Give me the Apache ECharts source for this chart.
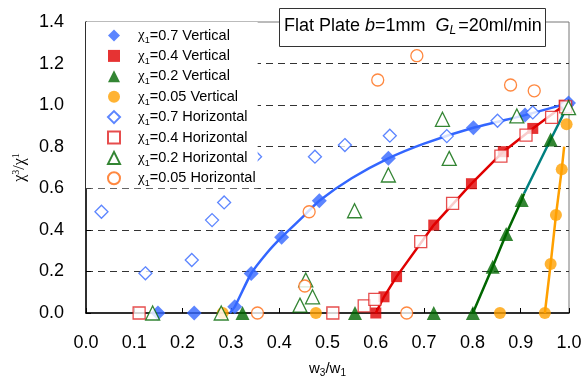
<!DOCTYPE html>
<html><head><meta charset="utf-8">
<script src="https://cdn.jsdelivr.net/npm/echarts@6/dist/echarts.min.js"></script>
<style>html,body{margin:0;padding:0;background:#fff}#c{width:582px;height:378px}</style>
</head><body><div id="c"></div>
<script>
// ---- data ----
const xTicks = [0.0,0.1,0.2,0.3,0.4,0.5,0.6,0.7,0.8,0.9,1.0];
const yTicks = [0.0,0.2,0.4,0.6,0.8,1.0,1.2,1.4];
const legendNames = ['χ1=0.7 Vertical','χ1=0.4 Vertical','χ1=0.2 Vertical','χ1=0.05 Vertical',
  'χ1=0.7 Horizontal','χ1=0.4 Horizontal','χ1=0.2 Horizontal','χ1=0.05 Horizontal'];

const v07 = [[0.149,0],[0.224,0],[0.308,0.03],[0.342,0.19],[0.405,0.365],[0.483,0.54],[0.626,0.744],[0.802,0.891],[0.909,0.952],[0.999,1.01]];
const v04 = [[0.600,0],[0.617,0.078],[0.643,0.175],[0.720,0.423],[0.798,0.622],[0.864,0.776],[0.925,0.888],[0.99,1.0]];
const v02 = [[0.324,0],[0.557,0],[0.720,0],[0.801,0],[0.842,0.223],[0.870,0.380],[0.902,0.544],[0.962,0.835]];
const v005 = [[0.283,0],[0.476,0],[0.857,0],[0.950,0],[0.962,0.236],[0.973,0.471],[0.985,0.691],[0.995,0.908]];

const h07 = [[0.032,0.487],[0.123,0.191],[0.219,0.255],[0.261,0.447],[0.286,0.532],[0.35,0.752],[0.474,0.752],[0.536,0.808],[0.629,0.853],[0.747,0.851],[0.852,0.925],[0.925,0.965],[0.995,1.0]];
const h04 = [[0.110,0],[0.511,0],[0.576,0.034],[0.598,0.066],[0.693,0.343],[0.759,0.527],[0.859,0.755],[0.911,0.856],[0.964,0.941],[0.993,0.992]];
const h02 = [[0.138,0],[0.280,0],[0.443,0.038],[0.469,0.078],[0.455,0.159],[0.556,0.492],[0.626,0.664],[0.738,0.932],[0.752,0.744],[0.892,0.948],[0.999,0.988]];
const h005 = [[0.355,0],[0.453,0.130],[0.462,0.487],[0.604,1.121],[0.664,0],[0.685,1.238],[0.879,1.097],[0.928,1.069]];

// fitted / connecting lines
const curve07 = [[0.298,0],[0.308,0.03],[0.342,0.19],[0.375,0.29],[0.405,0.365],[0.45,0.465],[0.483,0.54],[0.55,0.648],[0.626,0.744],[0.70,0.815],[0.802,0.891],[0.909,0.952],[1.0,1.01]];
const line04 = [[0.600,0],[0.617,0.078],[0.643,0.175],[0.720,0.423],[0.798,0.622],[0.864,0.776],[0.925,0.888],[0.99,1.0]];
const line02 = [[0.801,0],[0.842,0.223],[0.870,0.380],[0.902,0.544],[0.907,0.575]];
const line02b = [[0.907,0.575],[0.962,0.835],[1.0,1.01]];
const line005 = [[0.950,0],[0.962,0.236],[0.973,0.471],[0.985,0.691],[0.990,0.80]];

const BLUE='#3366ff', RED='#e00000', GREEN='#006600', ORANGE='#ffa000', ORANGE2='#ff6a10', TEAL='#008080', RED2='#e02020';
const FONT='Liberation Sans';

function lineS(name,data,color,smooth){
  return {name:name,type:'line',data:data,smooth:smooth?0.2:false,showSymbol:false,symbol:'none',
    lineStyle:{color:color,width:2.5},silent:true,z:1,clip:false};
}
function sc(name,data,symbol,size,color,open){
  return {name:name,type:'scatter',data:data,symbol:symbol,symbolSize:size,clip:false,z:2,
    itemStyle: open?{color:'#fff',borderColor:color,borderWidth:1.3}:{color:color,borderWidth:0}};
}

const chart = echarts.init(document.getElementById('c'),null,{renderer:'canvas'});
chart.setOption({
  animation:false,
  backgroundColor:'#fff',
  title:{
    text:'{n|Flat Plate }{i|b}{n|=1mm  }{i|G}{sub|L}{n|=20ml/min}',
    left:279, top:6, padding:[9,4,10,5], borderColor:'#333', borderWidth:1, backgroundColor:'#fff',
    textStyle:{fontWeight:'normal',rich:{
      n:{fontFamily:FONT,fontSize:18,fontWeight:'normal',color:'#000',lineHeight:22},
      i:{fontFamily:FONT,fontSize:18,fontWeight:'normal',fontStyle:'italic',color:'#000',lineHeight:22},
      sub:{fontFamily:FONT,fontSize:12,fontWeight:'normal',fontStyle:'italic',color:'#000',verticalAlign:'bottom',lineHeight:14,padding:[0,2,0,0]}
    }}
  },
  legend:{
    data:legendNames, orient:'vertical', left:86, top:22, padding:[6,2,0,21],
    backgroundColor:'#fff', itemWidth:12, itemHeight:12, itemGap:2.9,
    formatter:function(n){ const m=n.match(/^χ1(.*)$/); return '{g|χ}{s|1}{t|'+m[1]+'}'; },
    textStyle:{rich:{
      g:{fontFamily:'Liberation Serif',fontSize:15,color:'#000',padding:[0,0,0,13],lineHeight:20},
      s:{fontFamily:FONT,fontSize:9,color:'#000',verticalAlign:'bottom',lineHeight:11},
      t:{fontFamily:FONT,fontSize:14.5,color:'#000',lineHeight:20}
    }}
  },
  grid:{left:86,right:13,top:22,bottom:65,containLabel:false,outerBoundsMode:'none',show:true,borderColor:'#777',borderWidth:1,backgroundColor:'transparent'},
  xAxis:{type:'value',min:xTicks[0],max:xTicks[xTicks.length-1],interval:0.1,
    axisLine:{show:true,onZero:false,lineStyle:{color:'#000',width:1.5}},
    axisTick:{show:true,inside:true,length:5,lineStyle:{color:'#000'}},
    axisLabel:{margin:21,fontFamily:FONT,fontSize:18,color:'#000',formatter:v=>v.toFixed(1)},
    splitLine:{show:false},
    name:'{w|w}{s|3}{w|/w}{s|1}', nameLocation:'middle', nameGap:47,
    nameTextStyle:{rich:{w:{fontFamily:FONT,fontSize:15,color:'#000',lineHeight:18},
      s:{fontFamily:FONT,fontSize:10,color:'#000',verticalAlign:'bottom',lineHeight:11}}}
  },
  yAxis:{type:'value',min:yTicks[0],max:yTicks[yTicks.length-1],interval:0.2,
    axisLine:{show:true,onZero:false,lineStyle:{color:'#000',width:1.5}},
    axisTick:{show:true,inside:true,length:5,lineStyle:{color:'#000'}},
    axisLabel:{margin:22,fontFamily:FONT,fontSize:18,color:'#000',formatter:v=>v.toFixed(1)},
    splitLine:{show:true,showMinLine:false,showMaxLine:false,lineStyle:{color:'#333',width:1,type:[7,5]}},
    name:'{c|χ}{p|3}{c|/χ}{p|1}', nameLocation:'middle', nameGap:57, nameRotate:90,
    nameTextStyle:{rich:{c:{fontFamily:'Liberation Serif',fontSize:16,color:'#000',lineHeight:18},
      p:{fontFamily:'Liberation Serif',fontSize:10,color:'#000',verticalAlign:'top',lineHeight:10}}}
  },
  series:[
    lineS('c07',curve07,BLUE,true),
    lineS('l04',line04,RED,false),
    lineS('l02',line02,GREEN,false),
    lineS('l02b',line02b,TEAL,false),
    lineS('l005',line005,ORANGE,false),
    sc(legendNames[0],v07,'diamond',15,BLUE,false),
    sc(legendNames[1],v04,'rect',11,RED,false),
    sc(legendNames[2],v02,'triangle',14,GREEN,false),
    sc(legendNames[3],v005,'circle',12,ORANGE,false),
    sc(legendNames[4],h07,'diamond',13,BLUE,true),
    sc(legendNames[5],h04,'rect',12,RED2,true),
    sc(legendNames[6],h02,'triangle',14,GREEN,true),
    sc(legendNames[7],h005,'circle',12,ORANGE2,true)
  ]
});
</script></body></html>
